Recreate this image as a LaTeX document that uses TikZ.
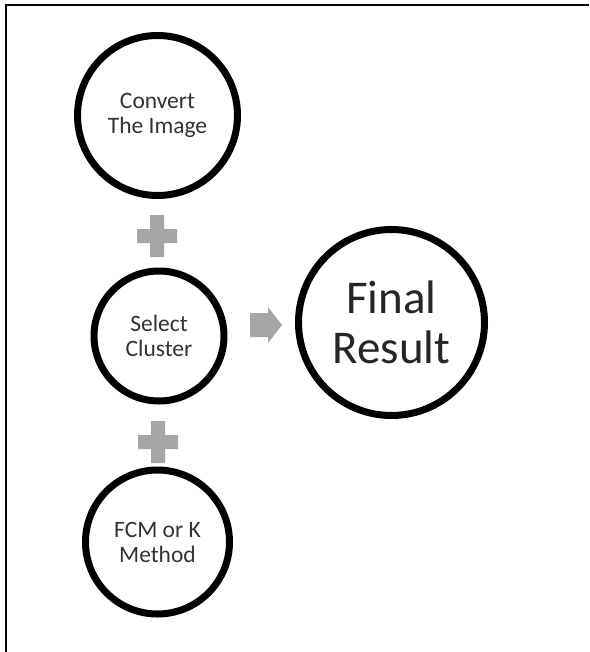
\documentclass[tikz,border=0pt]{standalone}
\usepackage{fontspec}
\setmainfont{Carlito}
\usetikzlibrary{shadows}
\definecolor{sym}{HTML}{A6A6A6}
\tikzset{
  stage/.style={circle, draw=black, line width=7pt, fill=white, align=center, inner sep=0pt,
    drop shadow={shadow xshift=0pt, shadow yshift=-2.5pt, opacity=0.25, fill=black}},
  smalltext/.style={font=\fontsize{23.5}{25}\selectfont, text=black!80},
  bigtext/.style={font=\fontsize{47}{50}\selectfont, text=black!85},
  symbol/.style={fill=sym, draw=none}
}
\begin{document}
\begin{tikzpicture}[x=1pt,y=-1pt]
\useasboundingbox (0,0) rectangle (589,652);
\fill[white] (0,0) rectangle (589,652);
% frame (top and left edges visible)
\draw[line width=2pt] (6,652) -- (6,5) -- (589,5);
% stages
\node[stage, smalltext, minimum size=160pt] (conv) at (157.5,115.5) {Convert\\The Image};
\node[stage, smalltext, minimum size=130pt] (sel) at (159,336) {Select\\Cluster};
\node[stage, smalltext, minimum size=144pt] (fcm) at (157.5,542) {FCM or K\\Method};
\node[stage, bigtext, minimum size=186pt] (fin) at (391.5,322.5) {Final\\Result};
% plus symbols
\coordinate (p1) at (157,236);
\coordinate (p2) at (158,442);
\foreach \p in {p1,p2}{
  \fill[symbol] ([shift={(-20,-7)}]\p) -- ([shift={(-7,-7)}]\p) -- ([shift={(-7,-21)}]\p)
    -- ([shift={(7,-21)}]\p) -- ([shift={(7,-7)}]\p) -- ([shift={(20,-7)}]\p)
    -- ([shift={(20,7)}]\p) -- ([shift={(7,7)}]\p) -- ([shift={(7,21)}]\p)
    -- ([shift={(-7,21)}]\p) -- ([shift={(-7,7)}]\p) -- ([shift={(-20,7)}]\p) -- cycle;
}
% arrow
\coordinate (ar) at (266,325);
\fill[symbol] ([shift={(-16,-12)}]ar) -- ([shift={(2,-12)}]ar) -- ([shift={(2,-18)}]ar)
  -- ([shift={(16,0)}]ar) -- ([shift={(2,18)}]ar) -- ([shift={(2,12)}]ar)
  -- ([shift={(-16,12)}]ar) -- cycle;
\end{tikzpicture}
\end{document}
